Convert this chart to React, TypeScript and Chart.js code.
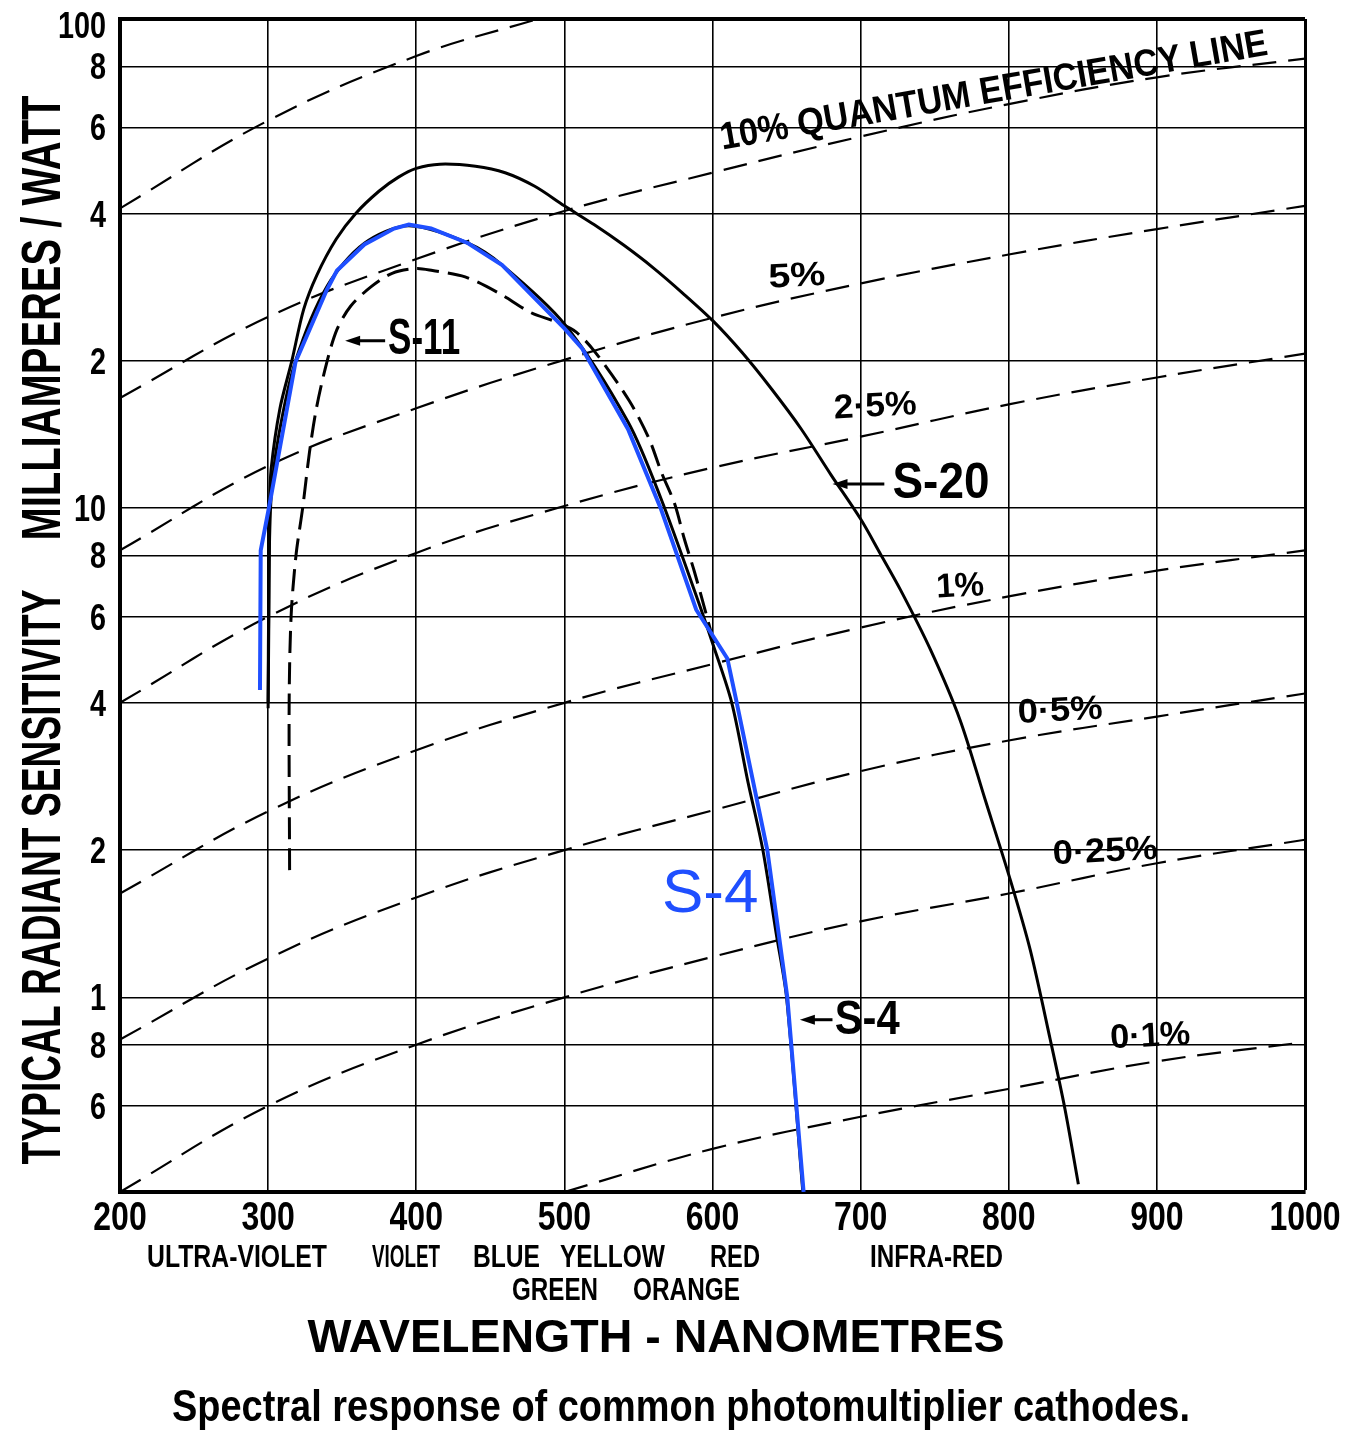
import React, { useEffect, useRef } from 'react';
import { Chart, registerables } from 'chart.js';

Chart.register(...registerables);

// ---------- axis ticks ----------
const X_TICKS = [200, 300, 400, 500, 600, 700, 800, 900, 1000];
const Y_TICKS = [0.6, 0.8, 1, 2, 4, 6, 8, 10, 20, 40, 60, 80, 100];
const Y_TICK_LABELS = ['6', '8', '1', '2', '4', '6', '8', '10', '2', '4', '6', '8', '100'];

// ---------- cathode response curves (nm, mA/W) ----------
const S20_WL = [300, 300.5, 301, 302, 308, 316, 324, 333, 346, 359, 375, 388, 400, 416, 440, 460, 480, 500, 520, 540, 560, 580, 600, 620, 640, 660, 680, 700, 713, 727, 747, 767, 784, 801, 814.5, 828, 838, 847];
const S20_VAL = [4.0, 6.0, 10, 12, 16, 20, 25.5, 30, 35.5, 40, 44.5, 47.5, 49.5, 50.5, 50, 48.5, 45.5, 41.5, 38, 34.5, 31, 27.5, 24.2, 20.8, 17.5, 14.5, 11.7, 9.5, 8.1, 6.8, 5.15, 3.7, 2.54, 1.74, 1.25, 0.82, 0.59, 0.415];

const S11_WL = [314.5, 314.2, 315.5, 318.8, 323.3, 327.9, 332.6, 339.5, 346.5, 355.8, 369.8, 383.7, 400, 411, 433, 455, 477.5, 495, 508, 521, 543.7, 557, 565.7, 574.5, 581, 587.7, 594.3, 601];
const S11_VAL = [1.82, 4.0, 6.0, 8.0, 10, 13.0, 16.0, 19.8, 23.2, 25.9, 28.4, 30.2, 30.9, 30.6, 29.7, 27.6, 25.1, 24, 22.9, 20.8, 16.6, 13.9, 11.8, 10.2, 8.65, 7.43, 6.3, 5.3];

const S4_WL = [300, 300.5, 302, 307, 318.5, 340, 365, 395, 435, 458, 500, 543, 565, 590, 600, 613, 624, 634, 643, 650, 661];
const S4_VAL = [3.9, 7, 10.5, 14, 20, 28.5, 34.8, 37.8, 34.8, 31.4, 23.8, 15, 10.5, 6.5, 5.3, 4.0, 2.75, 2.0, 1.35, 1.0, 0.4];

// blue overlay tracing of S-4
const S4B_WL = [294.5, 295, 300.5, 318.5, 339.5, 346.5, 365, 385, 395, 410, 435, 458, 500, 512, 543, 565, 589, 610, 616, 637, 650.5, 661.5];
const S4B_VAL = [4.25, 8.2, 10.0, 19.9, 27.9, 30.6, 34.6, 37.3, 38.0, 37.3, 34.8, 31.4, 23.3, 21.2, 14.5, 10.0, 6.2, 4.93, 4.05, 2.0, 1.0, 0.4];

// ---------- quantum efficiency lines ----------
const QE_WL = [200, 300, 400, 500, 600, 700, 800, 900, 1000];
const QE10_VAL = [16.8, 24.6, 32.3, 40.5, 48.5, 57.5, 67, 76, 83];
const QE5_VAL = [8.2, 12.2, 16, 20.1, 24.5, 28.8, 33, 37.2, 41.5];
const QE2_5_VAL = [4.0, 6.0, 8.1, 10.1, 12.1, 14.0, 16.3, 18.5, 20.7];
const QE1_VAL = [1.63, 2.4, 3.2, 4.0, 4.8, 5.7, 6.6, 7.45, 8.2];
const QE0_5_VAL = [0.82, 1.2, 1.6, 2.0, 2.41, 2.9, 3.35, 3.75, 4.18];
const QE0_25_VAL = [0.40, 0.6, 0.8, 1.0, 1.21, 1.43, 1.63, 1.88, 2.1];
const QE25_WL = [200, 300, 400, 482];
const QE25_VAL = [41, 62, 84, 100];
const QE0_1_WL = [500, 600, 700, 800, 900, 1000];
const QE0_1_VAL = [0.40, 0.49, 0.57, 0.65, 0.74, 0.81];

// ---------- labels ----------
const QE_LABELS = ['5%', '2·5%', '1%', '0·5%', '0·25%', '0·1%'];
const QE_LABEL_WL = [657, 709.8, 767.2, 834.7, 865.1, 895.5];
const QE_LABEL_VAL = [29.7, 16.1, 6.9, 3.84, 1.98, 0.83];
const QE_LABEL_W = [57, 83, 48, 85, 105, 80];

const BAND_ROW1 = ['ULTRA-VIOLET', 'VIOLET', 'BLUE', 'YELLOW', 'RED', 'INFRA-RED'];
const BAND_ROW1_L = [147, 372, 473, 560, 710, 870];
const BAND_ROW1_R = [327, 440, 540, 665, 760, 1003];
const BAND_ROW2 = ['GREEN', 'ORANGE'];
const BAND_ROW2_L = [512, 633];
const BAND_ROW2_R = [598, 740];

const FAMILY = '"Liberation Sans Narrow", "Liberation Sans", Arial, sans-serif';
const BLUE = '#1f4fff';

const pts = (xs: number[], ys: number[]) => xs.map((x, i) => ({ x, y: ys[i] }));

function drawText(
  ctx: CanvasRenderingContext2D,
  text: string,
  x: number,
  y: number,
  o: { size: number; weight?: string; family?: string; width?: number; sx?: number; rot?: number; align?: CanvasTextAlign; color?: string; baseline?: CanvasTextBaseline }
) {
  ctx.save();
  ctx.font = `${o.weight ?? 'bold'} ${o.size}px ${o.family ?? FAMILY}`;
  const w = ctx.measureText(text).width;
  const sx = o.width ? o.width / w : o.sx ?? 1;
  ctx.translate(x, y);
  if (o.rot) ctx.rotate(o.rot);
  ctx.scale(sx, 1);
  ctx.textAlign = o.align ?? 'center';
  ctx.textBaseline = o.baseline ?? 'middle';
  ctx.fillStyle = o.color ?? '#000';
  ctx.fillText(text, 0, 0);
  ctx.restore();
}

function arrow(ctx: CanvasRenderingContext2D, tipX: number, y: number, tailX: number) {
  ctx.save();
  ctx.strokeStyle = '#000';
  ctx.fillStyle = '#000';
  ctx.lineWidth = 3;
  ctx.beginPath();
  ctx.moveTo(tipX + 8, y);
  ctx.lineTo(tailX, y);
  ctx.stroke();
  ctx.beginPath();
  ctx.moveTo(tipX, y);
  ctx.lineTo(tipX + 15, y - 5);
  ctx.lineTo(tipX + 15, y + 5);
  ctx.closePath();
  ctx.fill();
  ctx.restore();
}

const annotations = {
  id: 'annotations',
  afterDraw(chart: any) {
    const ctx: CanvasRenderingContext2D = chart.ctx;
    const xs = chart.scales.x;
    const ys = chart.scales.y;
    const X = (v: number) => xs.getPixelForValue(v);
    const Y = (v: number) => ys.getPixelForValue(v);

    // tick labels, placed by the scales
    xs.ticks.forEach((t: any) => {
      drawText(ctx, String(t.value), X(t.value), xs.top + 27, { size: 40, sx: 0.8 });
    });
    ys.ticks.forEach((t: any) => {
      const i = Y_TICKS.indexOf(t.value);
      if (i < 0) return;
      const py = Math.max(Y(t.value) + 3, ys.top + 9);
      drawText(ctx, Y_TICK_LABELS[i], ys.right - 14, py, { size: 36, sx: 0.8, align: 'right' });
    });

    // y axis title
    drawText(ctx, 'TYPICAL RADIANT SENSITIVITY', 45, 877, { size: 55, width: 575, rot: -Math.PI / 2 });
    drawText(ctx, 'MILLIAMPERES / WATT', 45, 318, { size: 55, width: 445, rot: -Math.PI / 2 });

    // colour band labels
    BAND_ROW1.forEach((t, i) => drawText(ctx, t, (BAND_ROW1_L[i] + BAND_ROW1_R[i]) / 2, 1258, { size: 31, width: BAND_ROW1_R[i] - BAND_ROW1_L[i] }));
    BAND_ROW2.forEach((t, i) => drawText(ctx, t, (BAND_ROW2_L[i] + BAND_ROW2_R[i]) / 2, 1291, { size: 31, width: BAND_ROW2_R[i] - BAND_ROW2_L[i] }));

    // axis title and caption
    drawText(ctx, 'WAVELENGTH - NANOMETRES', 656, 1339, { size: 47, width: 697 });
    drawText(ctx, 'Spectral response of common photomultiplier cathodes.', 681, 1421, { size: 45, width: 1018, baseline: 'alphabetic' });

    // quantum efficiency labels
    drawText(ctx, '10% QUANTUM EFFICIENCY LINE', X(790), Y(71), { size: 38, width: 555, rot: -0.172 });
    QE_LABELS.forEach((t, i) => drawText(ctx, t, X(QE_LABEL_WL[i]), Y(QE_LABEL_VAL[i]), { size: 34, width: QE_LABEL_W[i], rot: -0.05 }));

    // curve labels with arrows
    arrow(ctx, X(352), Y(22), X(379));
    drawText(ctx, 'S-11', X(381), Y(22), { size: 50, width: 72, align: 'left' });
    arrow(ctx, X(681), Y(11.2), X(716));
    drawText(ctx, 'S-20', X(721.5), Y(11.2), { size: 50, width: 97, align: 'left' });
    arrow(ctx, X(659), Y(0.9), X(681));
    drawText(ctx, 'S-4', X(682.5), Y(0.895), { size: 48, width: 65, align: 'left' });

    // blue overlay label
    drawText(ctx, 'S-4', X(598.4), Y(1.62), { size: 62, weight: 'normal', family: '"Liberation Sans", Arial, sans-serif', color: BLUE });
  },
};

const qeDataset = (xs: number[], ys: number[]) => ({
  data: pts(xs, ys),
  borderColor: '#000',
  borderWidth: 2.2,
  borderDash: [24, 12],
  pointRadius: 0,
  tension: 0.4,
  fill: false,
});

export default function App() {
  const ref = useRef<HTMLCanvasElement | null>(null);

  useEffect(() => {
    if (!ref.current) return;
    const chart = new Chart(ref.current, {
      type: 'line',
      data: {
        datasets: [
          { data: pts(S4B_WL, S4B_VAL), borderColor: BLUE, borderWidth: 4, pointRadius: 0, tension: 0, fill: false },
          { data: pts(S4_WL, S4_VAL), borderColor: '#000', borderWidth: 3, pointRadius: 0, tension: 0.3, fill: false },
          { data: pts(S11_WL, S11_VAL), borderColor: '#000', borderWidth: 3, borderDash: [22, 9], pointRadius: 0, tension: 0.3, fill: false },
          { data: pts(S20_WL, S20_VAL), borderColor: '#000', borderWidth: 3, pointRadius: 0, tension: 0.3, fill: false },
          qeDataset(QE25_WL, QE25_VAL),
          qeDataset(QE_WL, QE10_VAL),
          qeDataset(QE_WL, QE5_VAL),
          qeDataset(QE_WL, QE2_5_VAL),
          qeDataset(QE_WL, QE1_VAL),
          qeDataset(QE_WL, QE0_5_VAL),
          qeDataset(QE_WL, QE0_25_VAL),
          qeDataset(QE0_1_WL, QE0_1_VAL),
        ],
      },
      options: {
        responsive: false,
        animation: false,
        devicePixelRatio: 1,
        layout: { padding: { left: 0, top: 19, right: 54, bottom: 0 } },
        plugins: { legend: { display: false }, tooltip: { enabled: false }, title: { display: false } },
        scales: {
          x: {
            type: 'linear',
            min: 200,
            max: 1000,
            afterBuildTicks: (s: any) => { s.ticks = X_TICKS.map((v) => ({ value: v })); },
            afterFit: (s: any) => { s.height = 239; },
            ticks: { display: false, autoSkip: false },
            grid: {
              color: '#000',
              lineWidth: (c: any) => (c.tick && c.tick.value === 1000 ? 3 : 1.6),
              drawTicks: false,
            },
            border: { display: true, color: '#000', width: 4 },
          },
          y: {
            type: 'logarithmic',
            min: 0.4,
            max: 100,
            afterBuildTicks: (s: any) => { s.ticks = Y_TICKS.map((v) => ({ value: v })); },
            afterFit: (s: any) => { s.width = 120; },
            ticks: { display: false, autoSkip: false },
            grid: {
              color: '#000',
              lineWidth: (c: any) => (c.tick && c.tick.value === 100 ? 4 : 1.6),
              drawTicks: false,
            },
            border: { display: true, color: '#000', width: 4 },
          },
        },
      } as any,
      plugins: [annotations],
    });
    return () => chart.destroy();
  }, []);

  return (
    <div style={{ position: 'absolute', left: 0, top: 0, width: 1359, height: 1431, background: '#fff' }}>
      <canvas ref={ref} width={1359} height={1431} style={{ width: 1359, height: 1431, display: 'block' }} />
    </div>
  );
}
